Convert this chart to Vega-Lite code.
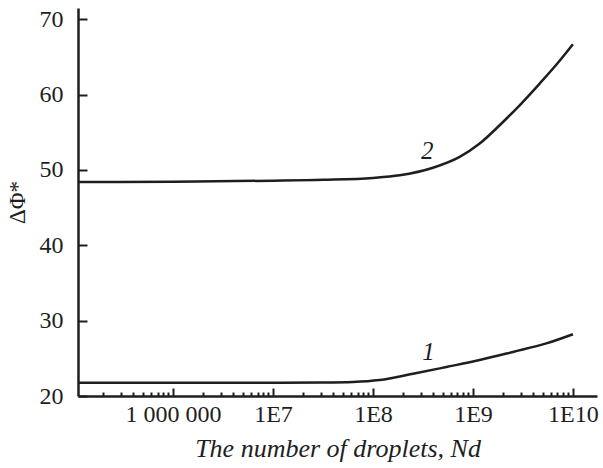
{
  "$schema": "https://vega.github.io/schema/vega-lite/v6.json",
  "autosize": {"type": "none"},
  "padding": {"left": 78, "top": 8, "right": 6, "bottom": 72},
  "width": 519,
  "height": 388,
  "background": "white",
  "config": {
    "view": {"stroke": null},
    "axis": {
      "domainColor": "#1e1e1e",
      "domainWidth": 2.5,
      "tickColor": "#1e1e1e",
      "tickWidth": 2,
      "labelFont": "Liberation Serif",
      "labelFontSize": 24,
      "labelColor": "#1e1e1e",
      "titleFont": "Liberation Serif",
      "titleFontSize": 24,
      "titleColor": "#1e1e1e",
      "titleFontWeight": "normal",
      "grid": false,
      "labelOverlap": false,
      "labelFlush": false
    }
  },
  "layer": [
    {
      "data": {
        "values": [
          {"n": 112000, "phi": 48.4, "curve": "2"},
          {"n": 1000000, "phi": 48.45, "curve": "2"},
          {"n": 10000000, "phi": 48.58, "curve": "2"},
          {"n": 31600000, "phi": 48.7, "curve": "2"},
          {"n": 100000000, "phi": 48.95, "curve": "2"},
          {"n": 184900000, "phi": 49.3, "curve": "2"},
          {"n": 398000000, "phi": 50.3, "curve": "2"},
          {"n": 736000000, "phi": 51.74, "curve": "2"},
          {"n": 1167000000, "phi": 53.51, "curve": "2"},
          {"n": 1849000000, "phi": 55.94, "curve": "2"},
          {"n": 2930000000, "phi": 58.59, "curve": "2"},
          {"n": 4645000000, "phi": 61.47, "curve": "2"},
          {"n": 7360000000, "phi": 64.5, "curve": "2"},
          {"n": 10000000000, "phi": 66.7, "curve": "2"},
          {"n": 112000, "phi": 21.75, "curve": "1"},
          {"n": 1000000, "phi": 21.75, "curve": "1"},
          {"n": 10000000, "phi": 21.77, "curve": "1"},
          {"n": 31600000, "phi": 21.8, "curve": "1"},
          {"n": 63100000, "phi": 21.87, "curve": "1"},
          {"n": 116700000, "phi": 22.12, "curve": "1"},
          {"n": 251200000, "phi": 22.95, "curve": "1"},
          {"n": 542000000, "phi": 23.85, "curve": "1"},
          {"n": 1167000000, "phi": 24.77, "curve": "1"},
          {"n": 2512000000, "phi": 25.85, "curve": "1"},
          {"n": 5420000000, "phi": 26.98, "curve": "1"},
          {"n": 10000000000, "phi": 28.2, "curve": "1"}
        ]
      },
      "mark": {"type": "line", "interpolate": "monotone", "color": "#1e1e1e", "strokeWidth": 2.5},
      "encoding": {
        "x": {
          "field": "n",
          "type": "quantitative",
          "scale": {"type": "log", "domain": [112000, 17400000000], "nice": false},
          "axis": {
            "title": "The number of droplets, Nd",
            "titleFontStyle": "italic",
            "titleFontSize": 26,
            "titlePadding": 5,
            "values": [200000, 300000, 400000, 500000, 600000, 700000, 800000, 900000,
                       1000000, 2000000, 3000000, 4000000, 5000000, 6000000, 7000000, 8000000, 9000000,
                       10000000, 20000000, 30000000, 40000000, 50000000, 60000000, 70000000, 80000000, 90000000,
                       100000000, 200000000, 300000000, 400000000, 500000000, 600000000, 700000000, 800000000, 900000000,
                       1000000000, 2000000000, 3000000000, 4000000000, 5000000000, 6000000000, 7000000000, 8000000000, 9000000000,
                       10000000000],
            "labelExpr": "abs(log(datum.value)/LN10 - round(log(datum.value)/LN10)) < 0.001 ? (datum.value < 2000000 ? '1 000 000' : '1E' + round(log(datum.value)/LN10)) : ''",
            "tickSize": {"condition": {"test": "abs(log(datum.value)/LN10 - round(log(datum.value)/LN10)) < 0.001", "value": -8}, "value": -4},
            "labelPadding": 14
          }
        },
        "y": {
          "field": "phi",
          "type": "quantitative",
          "scale": {"domain": [20, 71.5], "nice": false, "zero": false},
          "axis": {
            "title": "ΔΦ*",
            "titleFontSize": 23,
            "titlePadding": 10,
            "values": [20, 25, 30, 35, 40, 45, 50, 55, 60, 65, 70],
            "labelExpr": "datum.value % 10 == 0 ? datum.label : ''",
            "tickSize": {"condition": {"test": "datum.value % 10 == 0", "value": -9}, "value": -4.5},
            "labelPadding": 24
          }
        },
        "detail": {"field": "curve"}
      }
    },
    {
      "data": {
        "values": [
          {"n": 348000000, "phi": 52.5, "label": "2"},
          {"n": 358000000, "phi": 25.9, "label": "1"}
        ]
      },
      "mark": {"type": "text", "font": "Liberation Serif", "fontStyle": "italic", "fontSize": 25, "color": "#1e1e1e", "baseline": "middle", "align": "center"},
      "encoding": {
        "x": {"field": "n", "type": "quantitative"},
        "y": {"field": "phi", "type": "quantitative"},
        "text": {"field": "label"}
      }
    }
  ]
}
